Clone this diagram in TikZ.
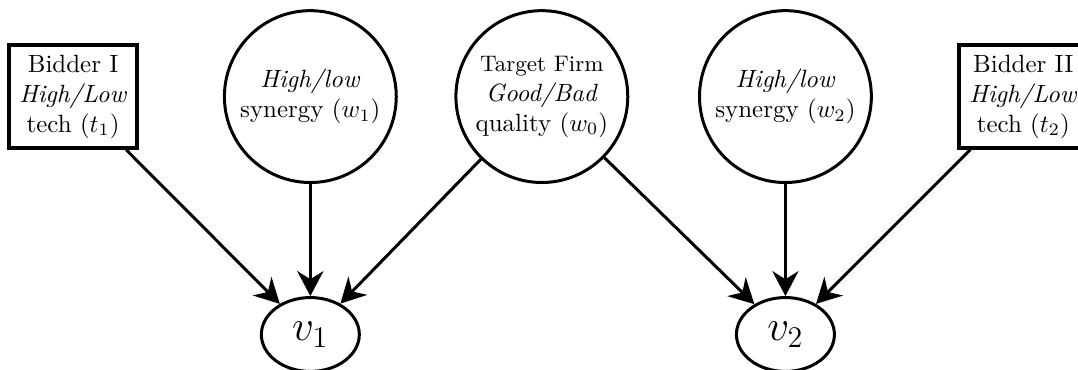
\documentclass[tikz,border=0pt]{standalone}
\usepackage{tikz}
\usetikzlibrary{arrows.meta, shapes.geometric}

\begin{document}
\begin{tikzpicture}[x=1cm, y=1cm, line width=1.2pt,
    bidder/.style={draw, rectangle, line width=1.6pt, minimum width=1.8cm,
      minimum height=1.44cm, align=center, inner sep=2pt},
    chance/.style={draw, circle, minimum size=2.42cm, align=center, inner sep=0pt},
    payoff/.style={draw, ellipse, minimum width=1.38cm, minimum height=1.04cm,
      inner sep=0pt, font=\LARGE},
    link/.style={-{Stealth[length=10pt, width=10.5pt]}}]

    % fix the page size
    \useasboundingbox (0, 0) rectangle (15.18, 5.21);

    % draw bidders
    \node[bidder] (t1) at (1.03, 3.85) {Bidder I\\ \textit{High/Low}\\ tech ($t_1$)};
    \node[bidder] (t2) at (14.41, 3.85) {Bidder II\\ \textit{High/Low}\\ tech ($t_2$)};

    % draw chance nodes
    \node[chance] (w1) at (4.37, 3.85) {\textit{High/low}\\ synergy ($w_1$)};
    \node[chance] (w0) at (7.63, 3.85) {{\small Target Firm}\\ \textit{Good/Bad}\\ quality ($w_0$)};
    \node[chance] (w2) at (11.06, 3.85) {\textit{High/low}\\ synergy ($w_2$)};

    % draw values
    \node[payoff] (v1) at (4.37, 0.5) {$v_1$};
    \node[payoff] (v2) at (11.06, 0.5) {$v_2$};

    % draw arrows
    \draw[link] (t1) -- (v1);
    \draw[link] (w1) -- (v1);
    \draw[link] (w0) -- (v1);
    \draw[link] (w0) -- (v2);
    \draw[link] (w2) -- (v2);
    \draw[link] (t2) -- (v2);

\end{tikzpicture}
\end{document}
